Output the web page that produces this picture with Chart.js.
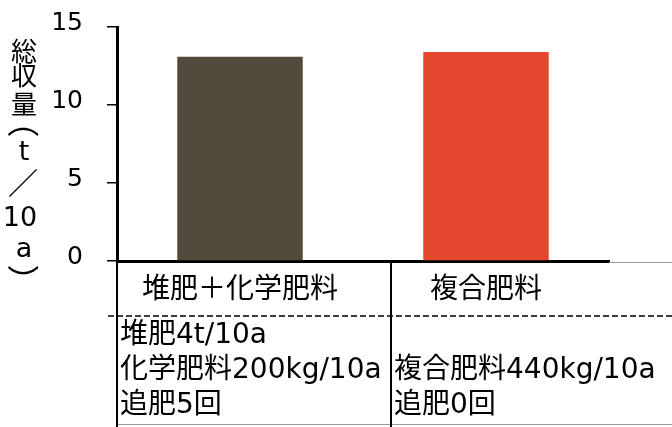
<!DOCTYPE html>
<html lang="ja">
<head>
<meta charset="utf-8">
<script src="https://cdn.jsdelivr.net/npm/chart.js@4.4.1/dist/chart.umd.min.js"></script>
<style>
  html, body { margin: 0; padding: 0; background: #fff; }
  canvas { display: block; }
</style>
</head>
<body>
<canvas id="yieldChart" width="672" height="427"></canvas>
<script>
// --- data ---
const categories = ["堆肥＋化学肥料", "複合肥料"];
const totalYield = [13.1, 13.4];          // 総収量 (t/10a)
const details = [
  ["堆肥4t/10a", "化学肥料200kg/10a", "追肥5回"],
  ["", "複合肥料440kg/10a", "追肥0回"]
];
const yTicks = [0, 5, 10, 15];
const yTitle = ["総", "収", "量", "（", "t", "／", "10", "a", "）"];
const barColors = ["#524a3a", "#e5472e"];

const FONT = "'DejaVu Sans', 'Noto Sans CJK JP', sans-serif";

// draw text centred on its ink box (used for the turned brackets)
function fillInkCentered(ctx, txt) {
  ctx.textAlign = "left";
  ctx.textBaseline = "alphabetic";
  const m = ctx.measureText(txt);
  const cx = (m.actualBoundingBoxRight - m.actualBoundingBoxLeft) / 2;
  const cy = (m.actualBoundingBoxDescent - m.actualBoundingBoxAscent) / 2;
  ctx.fillText(txt, -cx, -cy);
}

// vertical (stacked) y axis title
const yTitlePlugin = {
  id: "yTitle",
  afterDraw(chart) {
    const ctx = chart.ctx;
    const steps = [24.5, 29, 24.5, 21, 30, 36, 31, 20, 0];
    let y = 54;
    ctx.save();
    ctx.fillStyle = "#000";
    yTitle.forEach((ch, i) => {
      ctx.save();
      if (ch === "（" || ch === "）") {
        // brackets turned for vertical writing
        ctx.translate(23, y);
        ctx.rotate(Math.PI / 2);
        ctx.font = "32px 'Noto Sans CJK JP'";
        fillInkCentered(ctx, ch);
      } else if (ch === "／") {
        ctx.translate(23, y);
        ctx.font = "30px 'Noto Sans CJK JP'";
        fillInkCentered(ctx, ch);
      } else {
        ctx.textAlign = "center";
        ctx.textBaseline = "middle";
        ctx.font = (/[0-9a-z]/.test(ch) ? "27px " : "26px ") + FONT;
        ctx.fillText(ch, ch === "10" ? 20 : 24, y);
      }
      ctx.restore();
      y += steps[i];
    });
    ctx.restore();
  }
};

// table under the plot: category row + detail rows
const tablePlugin = {
  id: "table",
  afterDraw(chart) {
    const ctx = chart.ctx;
    const area = chart.chartArea;
    const xs = chart.scales.x;
    const W = chart.width;
    const colLeft = [area.left, 391];
    const dashY = 316;
    ctx.save();

    // grey top border continuing the axis, bottom border
    ctx.strokeStyle = "#999";
    ctx.lineWidth = 1;
    ctx.beginPath();
    ctx.moveTo(area.right, area.bottom + 1.5); ctx.lineTo(W, area.bottom + 1.5);
    ctx.moveTo(area.left, 424.5); ctx.lineTo(W, 424.5);
    ctx.stroke();

    // dashed separator
    ctx.strokeStyle = "#000";
    ctx.lineWidth = 1.5;
    ctx.setLineDash([6, 3]);
    ctx.beginPath();
    ctx.moveTo(108, dashY); ctx.lineTo(W, dashY);
    ctx.stroke();
    ctx.setLineDash([]);

    // vertical lines
    ctx.lineWidth = 2;
    ctx.beginPath();
    ctx.moveTo(area.left, area.bottom); ctx.lineTo(area.left, chart.height);
    ctx.moveTo(colLeft[1], area.bottom); ctx.lineTo(colLeft[1], chart.height);
    ctx.stroke();

    // texts
    ctx.fillStyle = "#000";
    ctx.font = "28px " + FONT;
    ctx.textBaseline = "middle";
    ctx.textAlign = "center";
    categories.forEach((c, i) => {
      ctx.fillText(c, xs.getPixelForValue(i), 291);
    });
    ctx.textAlign = "left";
    details.forEach((lines, i) => {
      lines.forEach((t, j) => {
        if (t) ctx.fillText(t, colLeft[i] + 3, 336 + j * 35);
      });
    });
    ctx.restore();
  }
};

new Chart(document.getElementById("yieldChart"), {
  type: "bar",
  data: {
    labels: categories,
    datasets: [{
      label: "総収量",
      data: totalYield,
      backgroundColor: barColors,
      borderWidth: 0,
      categoryPercentage: 1,
      barPercentage: 0.51
    }]
  },
  options: {
    responsive: false,
    devicePixelRatio: 1,
    animation: false,
    layout: { padding: { top: 27, right: 63, bottom: 166, left: 0 } },
    plugins: {
      legend: { display: false },
      tooltip: { enabled: false }
    },
    scales: {
      x: {
        ticks: { display: false },
        grid: { display: false, drawTicks: false },
        border: { display: true, color: "#000", width: 3 },
        afterFit: (s) => { s.height = 0; }
      },
      y: {
        min: yTicks[0],
        max: yTicks[yTicks.length - 1],
        ticks: {
          stepSize: yTicks[1] - yTicks[0],
          color: "#000",
          padding: 24,
          labelOffset: -4,
          font: { family: FONT, size: 25 }
        },
        grid: { drawOnChartArea: false, drawTicks: true, tickLength: 10, color: "#000", lineWidth: 1.5 },
        border: { display: true, color: "#000", width: 3 },
        afterFit: (s) => { s.width = 117; s.paddingTop = 0; s.paddingBottom = 0; }
      }
    }
  },
  plugins: [yTitlePlugin, tablePlugin]
});
</script>
</body>
</html>
